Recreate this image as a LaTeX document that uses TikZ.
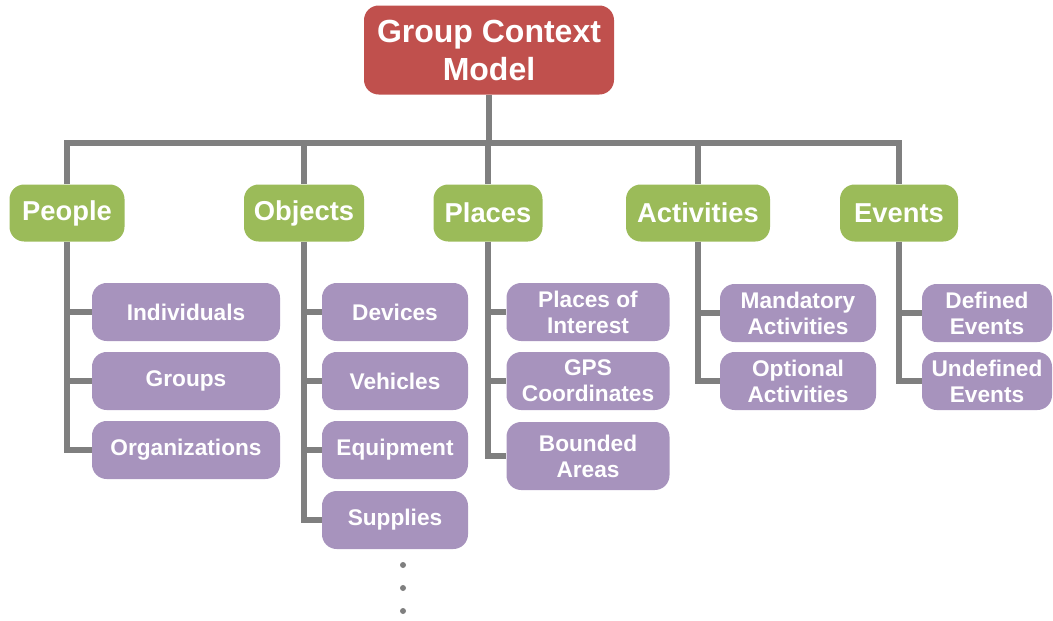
\documentclass[tikz,border=0pt]{standalone}
\usepackage{fontspec}
\setmainfont{Liberation Sans}
\definecolor{rootred}{HTML}{C0504D}
\definecolor{catgreen}{HTML}{9BBB59}
\definecolor{leafpurple}{HTML}{A793BD}
\definecolor{linegray}{HTML}{7F7F7F}
\begin{document}
\begin{tikzpicture}[x=0.75pt,y=-0.75pt,
  box/.style={rectangle, rounded corners=11pt, inner sep=0pt, text=white, align=center, font=\bfseries},
  rootbox/.style={box, fill=rootred, minimum width=250*0.75pt, minimum height=89*0.75pt, font=\fontsize{24}{28.5}\selectfont\bfseries},
  catbox/.style={box, fill=catgreen, minimum height=57*0.75pt, font=\fontsize{20.5}{24}\selectfont\bfseries},
  leafbox/.style={box, fill=leafpurple, minimum height=58*0.75pt, font=\fontsize{17}{19.5}\selectfont\bfseries},
  conn/.style={draw=linegray, line width=4.5pt},
  dotmark/.style={circle, fill=linegray, inner sep=0pt, minimum size=4.5pt}]
\useasboundingbox (0,0) rectangle (1053,621);

% root
\node[rootbox] (root) at (489,50) {Group Context\\Model};

% categories
\node[catbox, minimum width=115*0.75pt] (people) at (67,213) {People};
\node[catbox, minimum width=120*0.75pt] (objects) at (304,213) {Objects};
\node[catbox, minimum width=109*0.75pt] (places) at (488,213) {Places};
\node[catbox, minimum width=144*0.75pt] (activities) at (698,213) {Activities};
\node[catbox, minimum width=118*0.75pt] (events) at (899,213) {Events};

% people leaves
\node[leafbox, minimum width=188*0.75pt] (ind) at (186,312) {Individuals};
\node[leafbox, minimum width=188*0.75pt] (grp) at (186,381) {Groups};
\node[leafbox, minimum width=188*0.75pt] (org) at (186,450) {Organizations};

% objects leaves
\node[leafbox, minimum width=146*0.75pt] (dev) at (395,312) {Devices};
\node[leafbox, minimum width=146*0.75pt] (veh) at (395,381) {Vehicles};
\node[leafbox, minimum width=146*0.75pt] (equ) at (395,450) {Equipment};
\node[leafbox, minimum width=146*0.75pt] (sup) at (395,520) {Supplies};

% places leaves
\node[leafbox, minimum width=163*0.75pt] (poi) at (588,312) {Places of\\Interest};
\node[leafbox, minimum width=163*0.75pt] (gps) at (588,381) {GPS\\Coordinates};
\node[leafbox, minimum width=163*0.75pt, minimum height=68*0.75pt] (bnd) at (588,456) {Bounded\\Areas};

% activities leaves
\node[leafbox, minimum width=156*0.75pt] (man) at (798,313) {Mandatory\\Activities};
\node[leafbox, minimum width=156*0.75pt] (opt) at (798,381) {Optional\\Activities};

% events leaves
\node[leafbox, minimum width=130*0.75pt] (def) at (987,313) {Defined\\Events};
\node[leafbox, minimum width=130*0.75pt] (und) at (987,381) {Undefined\\Events};

% dots
\node[dotmark] (d1) at (403,565) {};
\node[dotmark] (d2) at (403,588) {};
\node[dotmark] (d3) at (403,611) {};

% connectors: top level
\coordinate (bar) at (0,143);
\begin{scope}[on background layer/.style={}]
\draw[conn] (root.south) -- (root.south |- bar);
\draw[conn] (people.north) |- (bar -| events.north) -- (events.north);
\draw[conn] (objects.north) -- (objects.north |- bar);
\draw[conn] (places.north) -- (places.north |- bar);
\draw[conn] (activities.north) -- (activities.north |- bar);

% people
\draw[conn] (people.south) |- (org.west);
\draw[conn] (people.south |- ind.west) -- (ind.west);
\draw[conn] (people.south |- grp.west) -- (grp.west);
% objects
\draw[conn] (objects.south) |- (sup.west);
\draw[conn] (objects.south |- dev.west) -- (dev.west);
\draw[conn] (objects.south |- veh.west) -- (veh.west);
\draw[conn] (objects.south |- equ.west) -- (equ.west);
% places
\draw[conn] (places.south) |- (bnd.west);
\draw[conn] (places.south |- poi.west) -- (poi.west);
\draw[conn] (places.south |- gps.west) -- (gps.west);
% activities
\draw[conn] (activities.south) |- (opt.west);
\draw[conn] (activities.south |- man.west) -- (man.west);
% events
\draw[conn] (events.south) |- (und.west);
\draw[conn] (events.south |- def.west) -- (def.west);
\end{scope}
\end{tikzpicture}
\end{document}
